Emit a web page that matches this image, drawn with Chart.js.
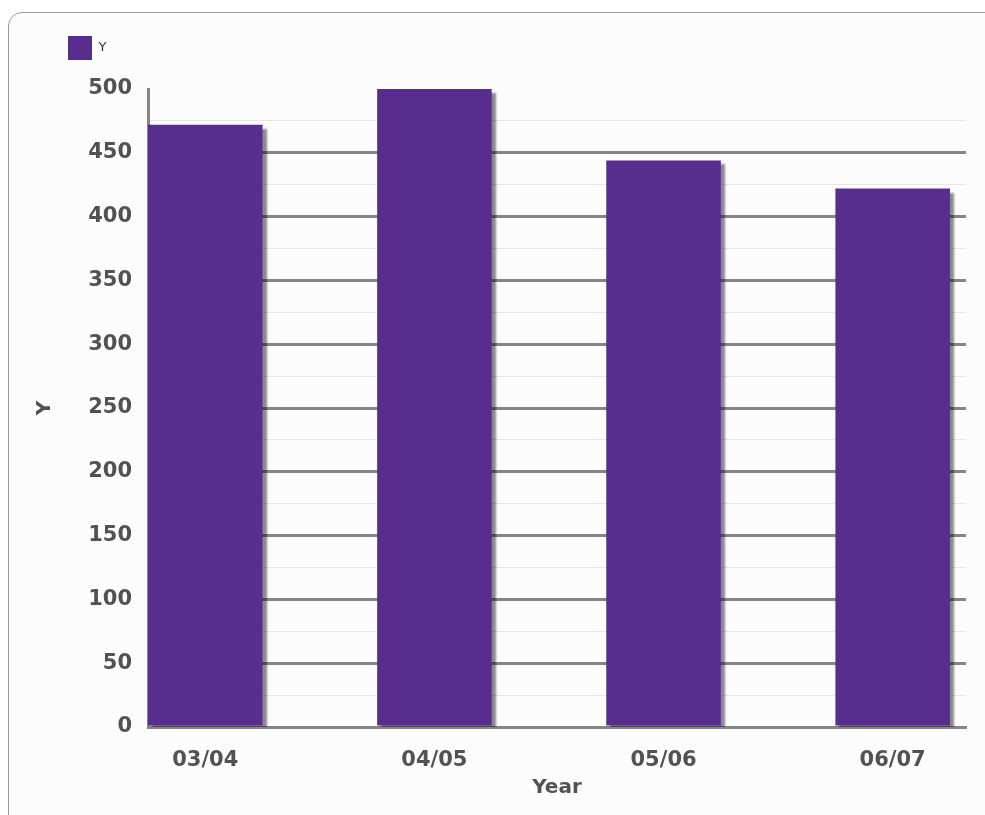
<!DOCTYPE html>
<html>
<head>
<meta charset="utf-8">
<script src="https://cdn.jsdelivr.net/npm/chart.js@4.4.0/dist/chart.umd.min.js"></script>
<style>
  body { margin: 0; background: #fff; overflow: hidden; }
  .frame {
    position: absolute; left: 8px; top: 12px; width: 1000px; height: 820px;
    border: 1px solid #9a9a9a; border-radius: 14px; background: #fcfcfc;
  }
  #js--chart--bar { position: absolute; left: 0; top: 0; }
</style>
</head>
<body>
<div class="frame"></div>
<canvas id="js--chart--bar" width="985" height="815"></canvas>
<script>
const categories = ['03/04', '04/05', '05/06', '06/07'];
const values = [472, 500, 444, 422];
const seriesName = 'Y';
const yMin = 0;
const yMax = 500;
const yStep = 25;
const yLabelStep = 50;

const barColor = '#592d8e';
const majorGrid = '#858585';
const minorGrid = '#e6e6e6';
const textColor = '#525252';

// legend: extra room under it and move it to the right
const legendSpacing = {
  id: 'legendSpacing',
  beforeInit(chart) {
    const fit = chart.legend.fit;
    chart.legend.fit = function () {
      fit.bind(this)();
      this.height += 19;
    };
  },
  afterLayout(chart) {
    chart.legend.left += 58;
  }
};

// drop shadow on the bars
const barShadow = {
  id: 'barShadow',
  beforeDatasetsDraw(chart) {
    const c = chart.ctx;
    c.save();
    c.shadowColor = 'rgba(0,0,0,0.45)';
    c.shadowOffsetX = 4;
    c.shadowOffsetY = 4;
    c.shadowBlur = 2;
  },
  afterDatasetsDraw(chart) {
    chart.ctx.restore();
  }
};

const ctx = document.getElementById('js--chart--bar');

if (ctx) {
  new Chart(ctx, {
    type: 'bar',
    data: {
      datasets: [{
        label: seriesName,
        data: values.map((v, i) => ({ x: i, y: v })),
        backgroundColor: barColor,
        borderWidth: 0,
        categoryPercentage: 1,
        barPercentage: 0.5
      }]
    },
    options: {
      responsive: false,
      animation: false,
      devicePixelRatio: 1,
      layout: { padding: { top: 26, right: 19, bottom: 0, left: 0 } },
      scales: {
        x: {
          type: 'linear',
          offset: false,
          min: -0.25,
          max: 3.32,
          afterBuildTicks: scale => {
            scale.ticks = categories.map((c, i) => ({ value: i }));
          },
          afterFit: scale => { scale.height = 88; },
          grid: { display: false, drawTicks: false, offset: false },
          border: { display: true, color: majorGrid, width: 3 },
          ticks: {
            padding: 21,
            color: textColor,
            font: { family: 'DejaVu Sans', size: 21, weight: 'bold' },
            callback: v => categories[v]
          },
          title: {
            display: true,
            text: 'Year',
            color: textColor,
            font: { family: 'DejaVu Sans', size: 20, weight: 'bold' },
            padding: { top: 0, bottom: 15 }
          }
        },
        y: {
          min: yMin,
          max: yMax,
          afterFit: scale => { scale.width = 148; },
          grid: {
            drawTicks: false,
            color: c => {
              const v = c.tick.value;
              if (v === yMax || v === yMin) return 'rgba(0,0,0,0)';
              return v % yLabelStep === 0 ? majorGrid : minorGrid;
            },
            lineWidth: c => (c.tick.value % yLabelStep === 0 ? 3 : 1)
          },
          border: { display: true, color: majorGrid, width: 3 },
          ticks: {
            stepSize: yStep,
            padding: 16,
            color: textColor,
            font: { family: 'DejaVu Sans', size: 21, weight: 'bold' },
            callback: v => (v % yLabelStep === 0 ? v : '')
          },
          title: {
            display: true,
            text: 'Y',
            color: textColor,
            font: { family: 'DejaVu Sans', size: 20, weight: 'bold' },
            padding: { top: 33, bottom: 0 }
          }
        }
      },
      plugins: {
        legend: {
          position: 'top',
          align: 'start',
          labels: {
            boxWidth: 24,
            boxHeight: 24,
            padding: 10,
            color: '#333',
            font: { family: 'DejaVu Sans', size: 13 }
          }
        },
        tooltip: { enabled: false }
      }
    },
    plugins: [legendSpacing, barShadow]
  });
}
</script>
</body>
</html>
